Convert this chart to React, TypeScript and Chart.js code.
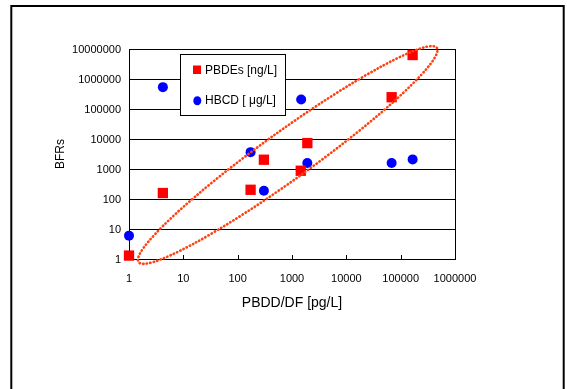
import React, { useEffect, useRef } from "react";
import { Chart, registerables } from "chart.js";

Chart.register(...registerables);

// ---- data ----
const pbdeX = [1, 4.2, 173, 304, 1450, 1915, 68200, 166000];
const pbdeY = [1.3, 158, 203, 2040, 875, 7300, 247000, 6300000];
const hbcdX = [1, 4.2, 173, 304, 1475, 1915, 68200, 166000];
const hbcdY = [6, 535000, 3650, 188, 208000, 1580, 1580, 2090];

const xTickValues = [1, 10, 100, 1000, 10000, 100000, 1000000];
const xTickLabels = ["1", "10", "100", "1000", "10000", "100000", "1000000"];
const yTickValues = [1, 10, 100, 1000, 10000, 100000, 1000000, 10000000];
const yTickLabels = ["1", "10", "100", "1000", "10000", "100000", "1000000", "10000000"];

const seriesLabels = ["PBDEs [ng/L]", "HBCD [ μg/L]"];
const xTitle = "PBDD/DF [pg/L]";
const yTitle = "BFRs";

// ellipse annotation: tips of its long axis, in data units
const ellipseTipA = [1.5, 0.79];
const ellipseTipB = [463000, 10900000];

const FONT = "'Liberation Sans', Arial, Helvetica, sans-serif";

const framePlugin = {
  id: "frame",
  beforeDatasetsDraw(chart: any) {
    const { ctx, chartArea: a, scales } = chart;
    ctx.save();
    ctx.strokeStyle = "#000";
    ctx.lineWidth = 1;
    ctx.strokeRect(Math.round(a.left) + 0.5, Math.round(a.top) + 0.5, Math.round(a.right - a.left), Math.round(a.bottom - a.top));
    // x tick marks pointing into the plot
    ctx.beginPath();
    xTickValues.forEach((v) => {
      const px = Math.round(scales.x.getPixelForValue(v)) + 0.5;
      ctx.moveTo(px, a.bottom);
      ctx.lineTo(px, a.bottom - 4);
    });
    ctx.stroke();
    ctx.restore();
  },
};

const overlayPlugin = {
  id: "overlay",
  afterDraw(chart: any) {
    const { ctx, scales } = chart;
    ctx.save();
    // legend box
    ctx.fillStyle = "#fff";
    ctx.fillRect(180.5, 54.5, 105, 61);
    ctx.strokeStyle = "#000";
    ctx.lineWidth = 1;
    ctx.strokeRect(180.5, 54.5, 105, 61);
    ctx.fillStyle = "#ff0000";
    ctx.fillRect(193, 65.5, 8, 8.5);
    ctx.fillStyle = "#0000ff";
    ctx.beginPath();
    ctx.ellipse(197.3, 100.7, 4, 4.5, 0, 0, Math.PI * 2);
    ctx.fill();
    ctx.fillStyle = "#000";
    ctx.font = `12px ${FONT}`;
    ctx.textBaseline = "middle";
    ctx.textAlign = "left";
    ctx.fillText(seriesLabels[0], 205, 70.5);
    ctx.fillText(seriesLabels[1], 205, 101);

    // dotted ellipse
    const ax = scales.x.getPixelForValue(ellipseTipA[0]);
    const ay = scales.y.getPixelForValue(ellipseTipA[1]);
    const bx = scales.x.getPixelForValue(ellipseTipB[0]);
    const by = scales.y.getPixelForValue(ellipseTipB[1]);
    const cx = (ax + bx) / 2;
    const cy = (ay + by) / 2;
    const semiMajor = Math.hypot(bx - ax, by - ay) / 2;
    const angle = Math.atan2(by - ay, bx - ax);
    ctx.beginPath();
    ctx.ellipse(cx, cy, semiMajor, 24, angle, 0, Math.PI * 2);
    ctx.strokeStyle = "#ff4010";
    ctx.lineWidth = 2.6;
    ctx.lineCap = "round";
    ctx.setLineDash([0.4, 3.2]);
    ctx.stroke();
    ctx.setLineDash([]);

    // outer frame
    ctx.strokeStyle = "#000";
    ctx.lineWidth = 2;
    ctx.lineCap = "butt";
    ctx.strokeRect(11.3, 6, 552.4, 600);
    ctx.restore();
  },
};

export default function App() {
  const ref = useRef<HTMLCanvasElement | null>(null);

  useEffect(() => {
    document.body.style.margin = "0";
    document.body.style.overflow = "hidden";
    const canvas = ref.current;
    if (!canvas) return;
    const chart = new Chart(canvas, {
      type: "scatter",
      data: {
        datasets: [
          {
            label: seriesLabels[0],
            data: pbdeX.map((x, i) => ({ x, y: pbdeY[i] })),
            pointStyle: "rect",
            pointRadius: 7.3,
            pointHoverRadius: 7.3,
            backgroundColor: "#ff0000",
            borderColor: "#ff0000",
            borderWidth: 0,
            clip: false,
          },
          {
            label: seriesLabels[1],
            data: hbcdX.map((x, i) => ({ x, y: hbcdY[i] })),
            pointStyle: "circle",
            pointRadius: 5,
            pointHoverRadius: 5,
            backgroundColor: "#0000ff",
            borderColor: "#0000ff",
            borderWidth: 0,
            clip: false,
          },
        ],
      },
      options: {
        responsive: false,
        animation: false,
        devicePixelRatio: 1,
        layout: { padding: { left: 0, top: 49, right: 112, bottom: 0 } },
        plugins: {
          legend: { display: false },
          tooltip: { enabled: false },
        },
        scales: {
          x: {
            type: "logarithmic",
            min: 1,
            max: 1000000,
            afterBuildTicks: (s: any) => {
              s.ticks = xTickValues.map((v) => ({ value: v }));
            },
            afterFit: (s: any) => {
              s.height = 130;
            },
            grid: { display: false, drawTicks: false },
            border: { display: false },
            ticks: {
              autoSkip: false,
              maxRotation: 0,
              padding: 13,
              color: "#000",
              font: { family: FONT, size: 11 },
              callback: (_v: any, i: number) => xTickLabels[i],
            },
            title: {
              display: true,
              text: xTitle,
              color: "#000",
              font: { family: FONT, size: 14 },
              padding: { top: 0, bottom: 77 },
            },
          },
          y: {
            type: "logarithmic",
            min: 1,
            max: 10000000,
            afterBuildTicks: (s: any) => {
              s.ticks = yTickValues.map((v) => ({ value: v }));
            },
            afterFit: (s: any) => {
              s.width = 129;
            },
            grid: { display: true, color: "#000", lineWidth: 1, drawTicks: false },
            border: { display: false },
            ticks: {
              autoSkip: false,
              padding: 8,
              labelOffset: 1,
              color: "#000",
              font: { family: FONT, size: 11 },
              callback: (_v: any, i: number) => yTickLabels[i],
            },
            title: {
              display: true,
              text: yTitle,
              color: "#000",
              font: { family: FONT, size: 12 },
              padding: { top: 53, bottom: 0 },
            },
          },
        },
      },
      plugins: [framePlugin, overlayPlugin],
    });
    return () => chart.destroy();
  }, []);

  return (
    <div style={{ width: 567, height: 389, position: "relative", background: "#fff" }}>
      <canvas ref={ref} width={567} height={389} style={{ display: "block" }} />
    </div>
  );
}
